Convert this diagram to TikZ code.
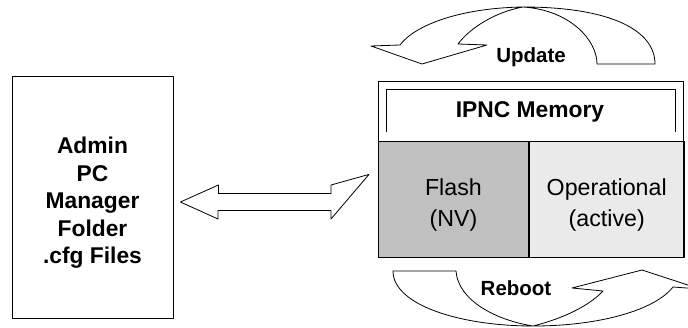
\documentclass[tikz,border=0pt]{standalone}
\usepackage{fontspec}
\setmainfont{Liberation Sans}
\usetikzlibrary{positioning}

\definecolor{flashgray}{RGB}{192,192,192}
\definecolor{opgray}{RGB}{234,234,234}

\begin{document}
\begin{tikzpicture}[x=1pt,y=-1pt,line width=0.8pt,line join=round,
  bigtext/.style={align=center,font=\fontsize{22.8}{27.5}\selectfont\bfseries},
  celltext/.style={align=center,font=\fontsize{23.2}{31}\selectfont},
  arrowtext/.style={font=\fontsize{20.5}{24}\selectfont\bfseries},
  cell/.style={draw,anchor=north west,minimum height=116pt,inner sep=0pt}]

  \useasboundingbox (0,0) rectangle (688,327);

  \node[draw,minimum width=161pt,minimum height=242pt] (admin) at (92.5,197) {};
  \node[bigtext] (admintext) at ([yshift=-6pt]admin.center) {Admin\\PC\\Manager\\Folder\\.cfg Files};

  % memory
  \node[cell,fill=flashgray,minimum width=150pt] (flash) at (378,141) {};
  \node[cell,fill=opgray,minimum width=155pt,right=0pt of flash] (oper) {};
  \node[celltext] (flashtext) at ([yshift=-5.5pt]flash.center) {Flash\\(NV)};
  \node[celltext] (opertext) at ([yshift=-5.5pt]oper.center) {Operational\\(active)};
  \node[draw,anchor=north west,minimum width=305pt,minimum height=176pt] (memory) at (378,81) {};
  \draw (386,132)--(386,89)--(675,89)--(675,132);
  \node[bigtext] (title) at (530,112) {IPNC Memory};

  % double arrow
  \coordinate (la) at ([xshift=7pt,yshift=-5pt]admin.east);
  \coordinate (ra) at ([xshift=-9pt,yshift=-5pt]memory.west);
  \draw (la) -- ++(38,-17) -- ++(0,8.5) -- (331,193.5) -- ++(0,-8.5) -- (ra)
        -- (331,219) -- ++(0,-8.5) -- (218,210.5) -- ++(0,8.5) -- cycle;

  % update
  \draw (523,7) .. controls (610,7) and (655,30) .. (655,64) -- (597,64)
        .. controls (597,40) and (570,10) .. (523,7)
        .. controls (495,12) and (470,28) .. (458,44) -- (487,45) -- (422,64) -- (371,46) -- (400,45)
        .. controls (415,25) and (460,8) .. (523,7);
  \node[arrowtext] (update) at (531,57) {Update};

  % reboot
  \draw (393,271) -- (456,271) .. controls (458,300) and (495,320) .. (533,326)
        .. controls (565,318) and (590,305) .. (603,291) -- (572,288) -- (642,270) -- (700,289) -- (673,287)
        .. controls (655,310) and (600,326) .. (533,326)
        .. controls (460,326) and (393,305) .. (393,271) -- cycle;
  \node[arrowtext] (reboot) at (516,288) {Reboot};

\end{tikzpicture}
\end{document}
